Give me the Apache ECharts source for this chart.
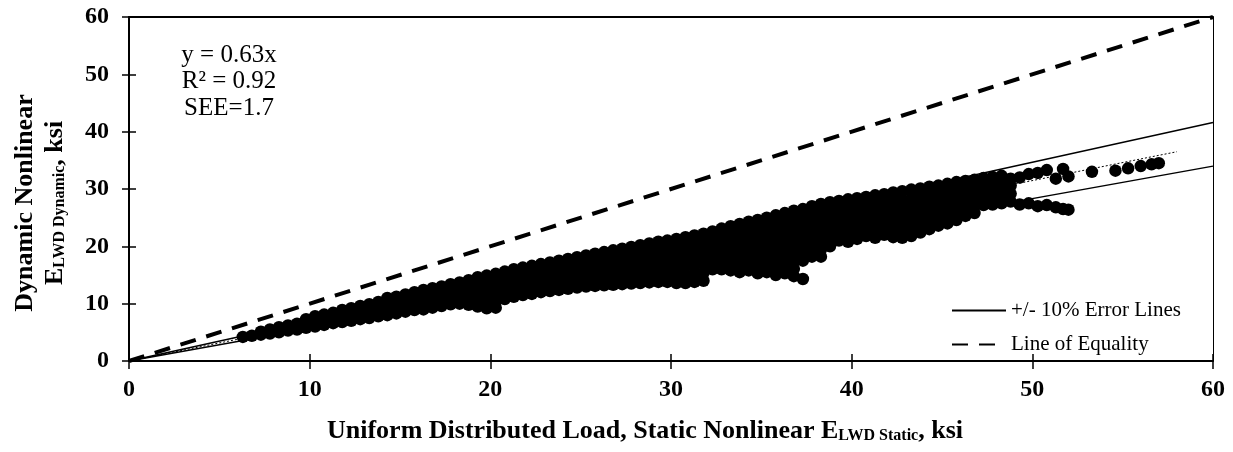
<!DOCTYPE html>
<html>
<head>
<meta charset="utf-8">
<script src="https://cdn.jsdelivr.net/npm/echarts@6/dist/echarts.min.js"></script>
<style>
html,body{margin:0;padding:0;background:#fff;}
#chart{width:1233px;height:452px;}
</style>
</head>
<body>
<div id="chart"></div>
<script>
// ---- data ----
const xTicks = [0, 10, 20, 30, 40, 50, 60];
const yTicks = [0, 10, 20, 30, 40, 50, 60];
const equalityX = [0, 60];
const equalityY = [0, 60];
const errorX = [0, 60];
const upperErrorY = [0, 41.6];
const lowerErrorY = [0, 34.0];
const trendX = [0, 58];
const trendY = [0, 36.5];
// scatter measurements grouped by static modulus (x) -> dynamic moduli (y)
const scatterColumns = [
  [6.3,[4.2]],[6.8,[4.4]],[7.3,[4.6,5.1]],[7.8,[4.8,5.5]],[8.3,[5.0,5.9]],[8.8,[5.3,6.2]],
  [9.3,[5.5,6.5]],[9.8,[5.8,6.8,7.3]],[10.3,[6.0,7.0,7.8]],[10.8,[6.3,7.2,8.1]],
  [11.3,[6.6,7.5,8.4]],[11.8,[6.8,7.8,8.9]],[12.3,[7.0,8.0,9.2]],[12.8,[7.3,8.4,9.6]],
  [13.3,[7.5,8.7,9.9]],[13.8,[7.8,9.0,10.3]],[14.3,[8.0,9.2,10.3,11.0]],[14.8,[8.3,9.5,10.6,11.2]],
  [15.3,[8.6,9.8,10.8,11.6]],[15.8,[8.9,10.0,11.0,12.0]],[16.3,[9.0,10.2,11.3,12.4]],[16.8,[9.3,10.4,11.6,12.7]],
  [17.3,[9.6,10.7,11.9,13.0]],[17.8,[9.9,11.0,12.2,13.4]],[18.3,[10.0,11.2,12.4,13.7]],
  [18.8,[9.8,10.9,12.0,13.1,14.1]],[19.3,[9.5,10.6,11.7,12.8,13.8,14.6]],[19.8,[9.2,10.3,11.4,12.5,13.6,14.9]],
  [20.3,[9.3,10.4,11.5,12.6,13.7,14.7,15.2]],[20.8,[10.8,11.9,13.0,14.1,15.1,15.6]],[21.3,[11.2,12.3,13.4,14.5,15.5,16.0]],
  [21.8,[11.5,12.6,13.7,14.8,15.8,16.3]],[22.3,[11.7,12.8,13.9,15.0,16.0,16.6]],[22.8,[12.0,13.1,14.2,15.3,16.3,16.9]],
  [23.3,[12.2,13.3,14.4,15.5,16.6,17.2]],[23.8,[12.4,13.5,14.6,15.7,16.8,17.5]],[24.3,[12.6,13.7,14.8,16.0,17.1,17.8]],
  [24.8,[12.8,13.9,15.0,16.2,17.3,18.1]],[25.3,[13.0,14.1,15.2,16.4,17.6,18.4]],[25.8,[13.1,14.2,15.4,16.6,17.8,18.7]],
  [26.3,[13.2,14.4,15.6,16.8,18.0,19.0]],[26.8,[13.3,14.5,15.7,17.0,18.2,19.3]],[27.3,[13.4,14.6,15.9,17.2,18.5,19.6]],
  [27.8,[13.5,14.7,16.0,17.3,18.7,19.9]],[28.3,[13.6,14.9,16.2,17.5,18.9,20.2]],[28.8,[13.7,15.0,16.3,17.7,19.1,20.5]],
  [29.3,[13.8,15.1,16.5,17.9,19.3,20.8]],[29.8,[13.8,15.2,16.6,18.0,19.5,21.0]],
  [30.3,[13.6,15.0,16.4,17.8,19.2,20.6,21.3]],[30.8,[13.6,15.0,16.5,18.0,19.4,20.8,21.6]],
  [31.3,[13.8,15.2,16.7,18.2,19.6,21.0,21.9]],[31.8,[14.0,15.4,16.9,18.4,19.8,21.2,22.2]],
  [32.3,[16.0,17.4,18.8,20.2,21.6,22.6]],[32.8,[16.0,17.3,18.6,19.9,21.2,22.4,23.1]],
  [33.3,[15.8,17.1,18.4,19.7,21.0,22.3,23.5]],[33.8,[15.5,16.8,18.1,19.4,20.7,22.0,23.2,23.9]],
  [34.3,[15.8,17.1,18.4,19.7,21.0,22.3,23.5,24.3]],[34.8,[15.3,16.6,17.9,19.2,20.5,21.8,23.1,24.6]],
  [35.3,[15.5,16.8,18.1,19.4,20.7,22.0,23.3,24.4,25.0]],[35.8,[15.0,16.3,17.6,18.9,20.2,21.5,22.8,24.1,25.4]],
  [36.3,[15.3,16.6,17.9,19.2,20.5,21.8,23.1,24.4,25.8]],[36.8,[14.8,16.1,17.4,18.7,20.0,21.3,22.6,23.9,25.2,26.2]],
  [37.3,[14.3,17.5,18.8,20.1,21.4,22.7,24.0,25.3,26.5]],[37.8,[18.2,19.5,20.8,22.1,23.4,24.7,26.0,27.0]],
  [38.3,[18.2,19.5,20.8,22.1,23.4,24.7,26.0,27.4]],[38.8,[20.0,21.3,22.6,23.9,25.2,26.5,27.7]],
  [39.3,[21.0,22.3,23.6,24.9,26.2,27.3,27.9]],[39.8,[20.8,22.1,23.4,24.7,26.0,27.2,28.2]],
  [40.3,[21.3,22.6,23.9,25.2,26.5,27.6,28.4]],[40.8,[21.8,23.1,24.4,25.7,27.0,28.0,28.6]],
  [41.3,[21.5,22.8,24.1,25.4,26.7,27.9,28.9]],[41.8,[22.0,23.3,24.6,25.9,27.2,28.3,29.1]],
  [42.3,[21.6,22.9,24.2,25.5,26.8,28.1,29.4]],[42.8,[21.5,22.8,24.1,25.4,26.7,28.0,29.6]],
  [43.3,[21.8,23.1,24.4,25.7,27.0,28.3,29.9]],[43.8,[22.4,23.7,25.0,26.3,27.6,28.9,30.1]],
  [44.3,[23.0,24.3,25.6,26.9,28.2,29.4,30.4]],[44.8,[23.6,24.9,26.2,27.5,28.7,29.8,30.6]],
  [45.3,[24.0,25.3,26.6,27.9,29.1,30.2,30.9]],[45.8,[24.6,25.9,27.2,28.4,29.6,30.6,31.2]],
  [46.3,[25.3,26.6,27.8,29.0,30.1,31.0,31.4]],[46.8,[25.8,27.0,28.2,29.4,30.5,31.6]],
  [47.3,[27.2,28.4,29.6,30.8,31.9]],[47.8,[27.3,28.5,29.7,30.9,32.1]],[48.3,[27.5,28.7,29.9,31.1,32.3]],
  [48.8,[27.8,29.2,30.6,31.8]],
  [49.3,[27.3,32.0]],[49.8,[27.5,32.6]],[50.3,[27.0,32.8]],[50.8,[27.2,33.3]],[51.3,[26.8,31.8]],
  [51.7,[26.5,33.5]],[52.0,[26.4,32.2]],[53.3,[33.0]],[54.6,[33.2]],[55.3,[33.6]],[56.0,[34.0]],
  [56.6,[34.3]],[57.0,[34.5]]
];
const annotationLines = ['y = 0.63x', 'R² = 0.92', 'SEE=1.7'];

const scatterData = [];
scatterColumns.forEach(function (c) { c[1].forEach(function (y) { scatterData.push([c[0], y]); }); });
function pairs(xs, ys) { return xs.map(function (x, i) { return [x, ys[i]]; }); }

const SERIF = "'Liberation Serif', 'Times New Roman', serif";
const chart = echarts.init(document.getElementById('chart'), null, {renderer: 'canvas'});

const baseLabel = {fontFamily: SERIF, fontWeight: 'bold', fontSize: 24, color: '#000'};

chart.setOption({
  animation: false,
  backgroundColor: '#fff',
  grid: {left: 129, right: 20, top: 17, bottom: 91, containLabel: false},
  xAxis: [
    {type: 'value', min: 0, max: 60, interval: 10, position: 'bottom',
     axisLine: {show: true, onZero: false, lineStyle: {color: '#000', width: 2}},
     axisTick: {show: true, inside: false, length: 8, lineStyle: {color: '#000', width: 1.5}},
     axisLabel: Object.assign({margin: 17, formatter: function (v) { return xTicks.indexOf(v) >= 0 ? String(v) : ''; }}, baseLabel),
     splitLine: {show: false}},
    {type: 'value', min: 0, max: 60, interval: 10, position: 'bottom',
     axisLine: {show: false}, axisTick: {show: true, inside: true, length: 7, lineStyle: {color: '#000', width: 1.5}},
     axisLabel: {show: false}, splitLine: {show: false}},
    {type: 'value', min: 0, max: 60, interval: 10, position: 'top',
     axisLine: {show: true, onZero: false, lineStyle: {color: '#000', width: 2}},
     axisTick: {show: false}, axisLabel: {show: false}, splitLine: {show: false}}
  ],
  yAxis: [
    {type: 'value', min: 0, max: 60, interval: 10, position: 'left',
     axisLine: {show: true, onZero: false, lineStyle: {color: '#000', width: 2}},
     axisTick: {show: true, inside: false, length: 7, lineStyle: {color: '#000', width: 1.5}},
     axisLabel: Object.assign({margin: 20, formatter: function (v) { return yTicks.indexOf(v) >= 0 ? String(v) : ''; }}, baseLabel),
     splitLine: {show: false}},
    {type: 'value', min: 0, max: 60, interval: 10, position: 'left',
     axisLine: {show: false}, axisTick: {show: true, inside: true, length: 7, lineStyle: {color: '#000', width: 1.5}},
     axisLabel: {show: false}, splitLine: {show: false}},
    {type: 'value', min: 0, max: 60, interval: 10, position: 'right',
     axisLine: {show: true, onZero: false, lineStyle: {color: '#000', width: 1}},
     axisTick: {show: false}, axisLabel: {show: false}, splitLine: {show: false}}
  ],
  legend: {
    orient: 'vertical', left: 946, top: 295, itemWidth: 54, itemHeight: 14, itemGap: 13,
    textStyle: {fontFamily: SERIF, fontSize: 21, color: '#000'},
    itemStyle: {opacity: 0, borderWidth: 0},
    data: ['+/- 10% Error Lines', 'Line of Equality'],
    selectedMode: false
  },
  series: [
    {name: '+/- 10% Error Lines', type: 'line', data: pairs(errorX, upperErrorY), symbol: 'none', z: 2,
     lineStyle: {color: '#000', width: 1.4, type: 'solid'}, itemStyle: {color: '#000'}},
    {name: '+/- 10% Error Lines', type: 'line', data: pairs(errorX, lowerErrorY), symbol: 'none', z: 2,
     lineStyle: {color: '#000', width: 1.4, type: 'solid'}, itemStyle: {color: '#000'}},
    {name: 'Line of Equality', type: 'line', data: pairs(equalityX, equalityY), symbol: 'none', z: 2,
     lineStyle: {color: '#000', width: 4, type: [16, 11]}, itemStyle: {color: '#000'}},
    {name: 'Trend', type: 'line', data: pairs(trendX, trendY), symbol: 'none', z: 2,
     lineStyle: {color: '#000', width: 1, type: [2, 2]}, itemStyle: {color: '#000'}},
    {name: 'Data', type: 'scatter', data: scatterData, symbol: 'circle', symbolSize: 12.5, z: 3,
     itemStyle: {color: '#000', opacity: 1}}
  ],
  graphic: [
    {type: 'text', x: 229, y: 55, style: {text: annotationLines[0],
      font: '25px ' + SERIF, fill: '#000', textAlign: 'center', textVerticalAlign: 'middle'}},
    {type: 'text', x: 229, y: 81, style: {text: annotationLines[1],
      font: '25px ' + SERIF, fill: '#000', textAlign: 'center', textVerticalAlign: 'middle'}},
    {type: 'text', x: 229, y: 108, style: {text: annotationLines[2],
      font: '25px ' + SERIF, fill: '#000', textAlign: 'center', textVerticalAlign: 'middle'}},
    {type: 'text', x: 25, y: 203, rotation: Math.PI / 2, style: {text: 'Dynamic Nonlinear',
      font: 'bold 26px ' + SERIF, fill: '#000', textAlign: 'center', textVerticalAlign: 'middle'}},
    {type: 'text', x: 53, y: 203, rotation: Math.PI / 2, style: {
      text: '{b|E}{s|LWD Dynamic}{b|, ksi}', textAlign: 'center', textVerticalAlign: 'middle',
      rich: {b: {fontFamily: SERIF, fontWeight: 'bold', fontSize: 26, lineHeight: 30, verticalAlign: 'bottom', fill: '#000'},
             s: {fontFamily: SERIF, fontWeight: 'bold', fontSize: 16, lineHeight: 30, verticalAlign: 'bottom', fill: '#000'}}}},
    {type: 'text', x: 645, y: 429, style: {
      text: '{b|Uniform Distributed Load, Static Nonlinear E}{s|LWD Static}{b|, ksi}', textAlign: 'center', textVerticalAlign: 'middle',
      rich: {b: {fontFamily: SERIF, fontWeight: 'bold', fontSize: 26, lineHeight: 30, verticalAlign: 'bottom', fill: '#000'},
             s: {fontFamily: SERIF, fontWeight: 'bold', fontSize: 16, lineHeight: 30, verticalAlign: 'bottom', fill: '#000'}}}}
  ]
});
</script>
</body>
</html>
